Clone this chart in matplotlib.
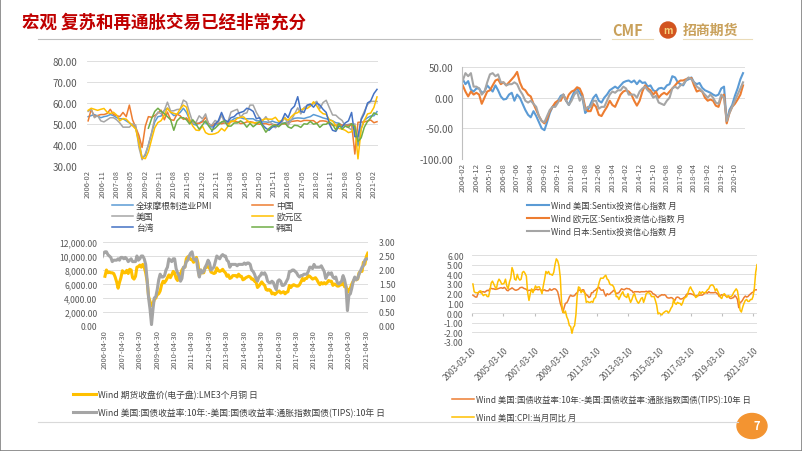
import numpy as np
import pandas as pd
import matplotlib
matplotlib.use('Agg')
import matplotlib.pyplot as plt
from matplotlib.patches import Ellipse, Rectangle
from matplotlib.ticker import StrMethodFormatter

plt.rcParams['font.family'] = ['Noto Sans CJK SC', 'DejaVu Sans']
plt.rcParams['axes.unicode_minus'] = False

W, H = 802, 452

# ---- chart 1: manufacturing PMI, every 2 months from 2006-02 ----
pmi_start = '2006-02-01'
pmi_global = [53.5, 54.0, 54.5, 53.8, 53.0, 53.5,
              53.8, 54.5, 54.0, 53.0, 52.5, 52.5,
              51.5, 50.5, 49.5, 47.8, 42.0, 33.7,
              35.0, 40.0, 45.5, 51.0, 53.5, 53.8,
              56.5, 57.5, 55.5, 54.0, 54.5, 55.5,
              57.5, 55.5, 52.0, 50.0, 49.5, 50.5,
              51.5, 50.5, 49.5, 48.5, 49.5, 50.0,
              50.5, 50.5, 50.5, 51.5, 52.5, 53.0,
              53.0, 52.5, 52.5, 52.5, 52.5, 51.5,
              51.5, 51.0, 51.0, 50.7, 51.4, 50.8,
              50.5, 50.4, 50.5, 51.0, 52.0, 52.7,
              52.9, 52.8, 52.6, 53.1, 53.5, 54.5,
              54.0, 53.5, 52.9, 52.5, 52.1, 51.5,
              50.6, 50.4, 49.4, 49.5, 49.8, 50.1,
              47.1, 39.6, 47.9, 51.8, 53.0, 53.8,
              53.9, 55.9]
pmi_china = [51.5, 57.0, 53.5, 54.0, 54.5, 54.5,
             55.0, 57.0, 54.5, 54.0, 53.5, 55.5,
             53.5, 59.0, 52.0, 48.4, 44.6, 38.8,
             49.0, 53.5, 53.2, 54.0, 55.2, 56.6,
             52.0, 55.7, 52.1, 51.7, 54.7, 53.9,
             52.2, 52.9, 50.9, 50.9, 50.4, 50.3,
             51.0, 53.3, 50.2, 49.2, 50.2, 50.6,
             50.1, 50.6, 50.1, 51.0, 51.4, 51.0,
             50.2, 50.4, 51.0, 51.1, 50.8, 50.1,
             49.9, 50.1, 50.2, 49.7, 49.8, 49.7,
             49.0, 50.1, 50.0, 50.4, 51.2, 51.4,
             51.6, 51.2, 51.7, 51.7, 51.6, 51.6,
             50.3, 51.4, 51.5, 51.3, 50.2, 49.4,
             49.2, 50.1, 49.4, 49.5, 49.3, 50.2,
             35.7, 50.8, 50.9, 51.0, 51.4, 51.9,
             50.6, 51.1]
pmi_us = [56.0, 57.0, 53.0, 54.0, 51.5, 51.0,
          52.0, 53.0, 53.0, 52.0, 50.5, 48.5,
          48.5, 48.5, 50.0, 49.5, 38.9, 33.0,
          35.8, 40.1, 45.8, 52.9, 55.7, 54.9,
          56.5, 60.4, 56.2, 56.3, 56.9, 57.0,
          61.4, 60.4, 55.3, 50.6, 50.8, 53.9,
          52.4, 54.8, 49.7, 49.6, 51.7, 50.7,
          54.2, 50.7, 50.9, 55.7, 56.4, 57.0,
          53.2, 54.9, 55.3, 59.0, 59.0, 55.5,
          52.9, 51.5, 53.5, 51.1, 50.1, 48.2,
          49.5, 50.8, 53.2, 49.4, 51.9, 54.7,
          57.7, 54.8, 57.8, 58.8, 58.7, 59.7,
          60.8, 57.3, 60.2, 61.3, 57.7, 54.3,
          54.2, 52.8, 51.7, 49.1, 48.3, 47.2,
          50.1, 41.5, 52.6, 56.0, 59.3, 60.7,
          60.8, 60.7]
pmi_euro = [56.5, 57.5, 57.0, 56.5, 57.0, 57.4,
            55.6, 55.0, 55.6, 54.3, 51.5, 52.6,
            52.3, 50.7, 49.2, 47.6, 41.1, 33.9,
            33.5, 36.8, 42.6, 48.2, 50.7, 51.6,
            54.2, 57.6, 55.6, 55.1, 54.6, 57.1,
            59.0, 58.0, 52.0, 49.0, 47.1, 46.9,
            49.0, 45.9, 45.1, 45.1, 45.4, 46.1,
            47.9, 46.7, 48.8, 51.4, 51.3, 52.7,
            53.2, 53.4, 51.8, 50.7, 50.6, 50.6,
            51.0, 52.0, 52.5, 52.3, 52.3, 53.2,
            51.2, 51.7, 52.8, 51.7, 53.5, 54.9,
            55.4, 56.7, 57.4, 57.4, 58.5, 60.6,
            58.6, 56.2, 54.9, 54.6, 52.0, 51.4,
            49.3, 47.9, 47.6, 47.0, 45.9, 46.3,
            49.2, 33.4, 47.4, 51.7, 54.8, 55.2,
            57.9, 62.9]
pmi_taiwan = [None] * 36 + [
              None, None, None, 46.5, 50.0, 51.5,
              55.5, 52.0, 51.0, 53.0, 53.5, 55.0,
              55.5, 56.0, 57.5, 57.0, 56.0, 52.5,
              53.0, 49.5, 48.0, 47.0, 48.5, 49.0,
              50.0, 51.5, 55.0, 53.0, 57.0, 58.5,
              63.0, 56.0, 55.5, 59.0, 59.5, 58.0,
              60.0, 59.0, 57.0, 55.5, 50.0, 47.0,
              46.5, 49.0, 48.5, 50.5, 51.5, 55.5,
              44.0, 44.0, 52.0, 55.0, 60.0, 61.0,
              64.5, 66.5]
pmi_korea = [None] * 18 + [
             None, 48.0, 52.5, 56.0, 57.5, 56.0,
             55.0, 53.5, 52.0, 47.0, 51.5, 53.0,
             53.0, 52.0, 50.0, 52.0, 50.0, 47.5,
             49.5, 51.5, 49.0, 47.0, 48.0, 49.5,
             51.0, 51.5, 49.0, 49.0, 50.5, 50.5,
             51.5, 50.5, 48.5, 50.3, 48.7, 49.9,
             51.1, 48.8, 46.1, 47.9, 49.1, 49.5,
             48.7, 50.0, 50.5, 48.6, 48.0, 49.4,
             49.2, 48.4, 50.1, 49.9, 51.2, 49.9,
             50.3, 48.4, 49.8, 49.9, 51.0, 49.8,
             47.2, 50.2, 47.5, 49.0, 48.4, 50.1,
             48.7, 41.6, 43.4, 48.5, 51.2, 52.9,
             55.3, 54.6]
pmi_names = ['全球摩根制造业PMI', '中国', '美国', '欧元区', '台湾', '韩国']

# ---- chart 2: Sentix investor confidence, every 2 months from 2004-02 ----
sentix_start = '2004-02-01'
sentix_us = [30, 22, 27, 13, 10, 15,
             15, 8, 10, 20, 15, 10,
             20, 12, 2, -3, -2, 5,
             8, -5, 5, 0, -10, -20,
             -28, -32, -22, -30, -40, -50,
             -53, -40, -25, -15, -10, -5,
             3, 5, -5, -12, 0, 10,
             15, 8, 0, -25, -20, -10,
             0, 5, -5, -8, 0, 5,
             12, 15, 18, 15, 20, 25,
             27, 28, 25, 28, 22, 28,
             24, 25, 18, 20, 12, 10,
             15, 16, 14, 20, 22, 35,
             33, 25, 22, 20, 28, 30,
             33, 25, 22, 24, 16, 12,
             10, 8, 5, 3, 5, 15,
             18, -40, -20, -12, 3, 15,
             30, 40]
sentix_euro = [20, 10, 2, 10, 5, 8,
               5, -10, 0, 10, 12, 20,
               28, 30, 22, 25, 20, 25,
               30, 35, 42, 25, 15, 12,
               5, 2, -10, -20, -30, -38,
               -42, -35, -22, -15, -8, -5,
               -5, 5, -5, 5, 10, 12,
               17, 15, 5, -15, -22, -22,
               -10, -15, -28, -30, -22, -15,
               -5, -12, -15, -5, 5, 10,
               12, 10, 5, -5, -13, -5,
               10, 20, 15, 12, 5, 10,
               0, 5, 8, 5, 10, 15,
               20, 25, 28, 28, 30, 32,
               32, 20, 10, 12, 10, 0,
               -5, -3, -5, -13, -15, 0,
               5, -42, -25, -15, -10, -3,
               5, 20]
sentix_japan = [28, 40, 35, 40, 18, 18,
                15, 5, 10, 25, 38, 40,
                35, 38, 25, 25, 20, 22,
                22, 25, 22, 12, 5, -5,
                -8, -5, -10, -15, -30, -38,
                -40, -30, -20, -15, -15, -8,
                0, 5, -5, -12, -5, 5,
                10, -5, 2, -20, -15, -15,
                -5, -5, -18, -15, -15, -5,
                5, 10, 8, 12, 12, 18,
                15, 5, 5, 5, 0, 10,
                15, 18, 12, 8, 0, 3,
                -8, -10, -12, -5, 0, 15,
                18, 15, 20, 22, 28, 33,
                30, 25, 18, 15, 10, 5,
                0, 5, 0, -8, -10, 5,
                0, -38, -25, -15, -5, 5,
                15, 25]
sentix_names = ['Wind 美国:Sentix投资信心指数 月', 'Wind 欧元区:Sentix投资信心指数 月',
                'Wind 日本:Sentix投资信心指数 月']

# ---- chart 3: LME copper, monthly from 2006-04 ----
copper_start = '2006-04-30'
copper = [7100, 8000, 7600, 7700, 7600, 7600, 7500, 7000, 6300,
          5400, 6200, 6900, 7900, 7600, 7600, 7950, 7500, 8100, 8000, 6900, 6700,
          7100, 8400, 8500, 8700, 8400, 8800, 8400, 7600, 6400, 4200, 3500, 2900,
          3200, 3800, 4000, 4500, 4600, 5000, 5900, 6400, 6200, 6500, 6900, 7300,
          6900, 7300, 7800, 7600, 6800, 6500, 7400, 7400, 8000, 8300, 8400, 9600,
          9900, 9800, 9500, 9500, 9100, 9300, 9800, 9000, 7100, 8000, 7600, 7600,
          8400, 8400, 8500, 8300, 7700, 7600, 7500, 7600, 8300, 7900, 7800, 7900,
          8100, 7800, 7600, 7100, 7300, 6800, 6900, 7200, 7200, 7200, 7000, 7400,
          7100, 7100, 6600, 6700, 6900, 7000, 7100, 7000, 6700, 6700, 6400, 6300,
          5500, 5700, 6000, 6300, 6000, 5800, 5200, 5100, 5200, 5100, 4600, 4700,
          4500, 4700, 4900, 5000, 4700, 4800, 4900, 4600, 4800, 4900, 5800, 5500,
          5800, 5900, 5800, 5700, 5700, 5900, 6300, 6800, 6500, 6800, 6800, 7200,
          7100, 6900, 6700, 6800, 6900, 6600, 6200, 5900, 6200, 6000, 6200, 6000,
          6200, 6500, 6400, 6400, 5800, 6000, 5900, 5700, 5700, 5900, 5900, 6200,
          5600, 5700, 4800, 5200, 5400, 6000, 6400, 6700, 6600, 6700, 7600, 7800,
          7800, 9100, 8800, 9900, 10400]

# ---- 10y breakeven (charts 3 and 4) and CPI yoy, monthly from 2003-03 ----
monthly_start = '2003-03-31'
breakeven = [1.85, 1.75, 1.65, 1.65, 2.05, 2.25, 2.1, 2.2, 2.2, 2.15,
             2.25, 2.35, 2.3, 2.5, 2.55, 2.5, 2.5, 2.45, 2.45, 2.5, 2.55, 2.6,
             2.6, 2.55, 2.65, 2.55, 2.35, 2.3, 2.45, 2.5, 2.6, 2.5, 2.4, 2.35,
             2.4, 2.45, 2.6, 2.65, 2.65, 2.55, 2.5, 2.45, 2.3, 2.35, 2.35, 2.35,
             2.4, 2.35, 2.45, 2.45, 2.4, 2.45, 2.4, 2.3, 2.35, 2.4, 2.3, 2.3,
             2.3, 2.5, 2.35, 2.4, 2.5, 2.5, 2.4, 2.2, 1.65, 1.0, 0.6, 0.05,
             0.6, 1.0, 1.05, 1.3, 1.65, 1.85, 1.75, 1.75, 1.8, 2.0, 2.1, 2.4,
             2.35, 2.3, 2.4, 2.4, 2.05, 1.9, 1.8, 1.6, 1.7, 2.1, 2.1, 2.3,
             2.35, 2.5, 2.6, 2.65, 2.4, 2.35, 2.4, 2.0, 1.75, 2.0, 1.9, 1.95,
             2.1, 2.2, 2.35, 2.25, 2.0, 2.05, 2.1, 2.3, 2.5, 2.45, 2.4, 2.5,
             2.55, 2.5, 2.5, 2.35, 2.3, 2.1, 2.2, 2.2, 2.2, 2.2, 2.15, 2.2,
             2.2, 2.2, 2.2, 2.25, 2.2, 2.25, 2.25, 2.2, 2.0, 1.95, 1.85, 1.7,
             1.6, 1.75, 1.8, 1.9, 1.85, 1.9, 1.8, 1.6, 1.55, 1.55, 1.6, 1.55,
             1.4, 1.3, 1.6, 1.65, 1.6, 1.45, 1.45, 1.5, 1.6, 1.7, 1.95, 1.95,
             2.0, 2.0, 1.95, 1.9, 1.8, 1.75, 1.8, 1.8, 1.85, 1.85, 1.85, 1.95,
             2.1, 2.1, 2.05, 2.2, 2.1, 2.1, 2.1, 2.1, 2.15, 2.05, 1.95, 1.7,
             1.8, 1.9, 1.85, 1.9, 1.75, 1.7, 1.75, 1.55, 1.5, 1.55, 1.6, 1.8,
             1.65, 1.4, 0.55, 1.1, 1.15, 1.35, 1.6, 1.75, 1.65, 1.7, 1.85, 1.98,
             2.1, 2.15, 2.35, 2.4, 2.4]
cpi_yoy = [3.0, 2.2, 2.1, 2.1, 2.1, 2.2, 2.3, 2.0, 1.8, 1.9,
           1.9, 1.7, 1.7, 2.3, 3.1, 3.3, 3.0, 2.7, 2.5, 3.2, 3.5, 3.3,
           3.0, 3.0, 3.1, 3.5, 2.8, 2.5, 3.2, 3.6, 4.7, 4.3, 3.5, 3.4,
           4.0, 3.6, 3.4, 3.5, 4.2, 4.3, 4.1, 3.8, 2.1, 1.3, 2.0, 2.5,
           2.1, 2.4, 2.8, 2.6, 2.7, 2.7, 2.4, 2.0, 2.8, 3.5, 4.3, 4.1,
           4.3, 4.0, 4.0, 3.9, 4.2, 5.0, 5.6, 5.4, 4.9, 3.7, 1.1, 0.1,
           0.0, 0.2, -0.4, -0.7, -1.3, -1.4, -2.1, -1.5, -1.3, -0.2, 1.8, 2.7,
           2.6, 2.1, 2.3, 2.2, 2.0, 1.1, 1.2, 1.1, 1.1, 1.2, 1.1, 1.5,
           1.6, 2.1, 2.7, 3.2, 3.6, 3.6, 3.6, 3.8, 3.9, 3.5, 3.4, 3.0,
           2.9, 2.9, 2.7, 2.3, 1.7, 1.7, 1.4, 1.7, 2.0, 2.2, 1.8, 1.7,
           1.6, 2.0, 1.5, 1.1, 1.4, 1.8, 2.0, 1.5, 1.2, 1.0, 1.2, 1.5,
           1.6, 1.1, 1.5, 2.0, 2.1, 2.1, 2.0, 1.7, 1.7, 1.7, 1.3, 0.8,
           -0.1, 0.0, -0.1, -0.2, 0.0, 0.1, 0.2, 0.2, 0.0, 0.2, 0.5, 0.7,
           1.4, 1.0, 0.9, 1.1, 1.0, 1.0, 0.8, 1.1, 1.5, 1.6, 1.7, 2.1,
           2.5, 2.7, 2.4, 2.2, 1.9, 1.6, 1.7, 1.9, 2.2, 2.0, 2.2, 2.1,
           2.1, 2.2, 2.4, 2.5, 2.8, 2.9, 2.9, 2.7, 2.3, 2.5, 2.2, 1.9,
           1.6, 1.5, 1.9, 2.0, 1.8, 1.6, 1.8, 1.7, 1.7, 1.8, 2.1, 2.3,
           2.5, 2.3, 1.5, 0.3, 0.1, 0.6, 1.0, 1.3, 1.4, 1.2, 1.2, 1.4,
           1.4, 1.7, 2.6, 4.2, 5.0]
copper_name = 'Wind 期货收盘价(电子盘):LME3个月铜 日'
be_name = 'Wind 美国:国债收益率:10年:-美国:国债收益率:通胀指数国债(TIPS):10年 日'
cpi_name = 'Wind 美国:CPI:当月同比 月'
title = '宏观 复苏和再通胀交易已经非常充分'

BLUE, ORANGE, GRAY, GOLD, DBLUE, GREEN = '#5B9BD5', '#ED7D31', '#A5A5A5', '#FFC000', '#4472C4', '#70AD47'
TXT = '#595959'

fig = plt.figure(figsize=(W / 100, H / 100), dpi=100)


def add_ax(l, t, r, b):
    return fig.add_axes([l / W, 1 - b / H, (r - l) / W, (b - t) / H])


def base_style(ax, fs, ypad=2):
    for s in ax.spines.values():
        s.set_visible(False)
    ax.grid(axis='y', color='#D9D9D9', lw=0.6)
    ax.set_axisbelow(True)
    ax.tick_params(length=0, labelsize=fs, colors=TXT, pad=2)
    ax.tick_params(axis='y', pad=ypad)


def put_legend(ax, handles, labels, x, y, fs, **kw):
    leg = ax.legend(handles, labels, loc='upper left', bbox_to_anchor=(x / W, 1 - y / H),
                    bbox_transform=fig.transFigure, frameon=False, fontsize=fs,
                    borderpad=0, borderaxespad=0, handletextpad=0.3, **kw)
    for t in leg.get_texts():
        t.set_color('#404040')
    return leg


# chart 1
pmi_dates = pd.date_range(pmi_start, periods=len(pmi_global), freq='2MS')
ax1 = add_ax(87, 62, 378, 167)
base_style(ax1, 7, ypad=7)
lines1 = []
for vals, c in zip([pmi_global, pmi_china, pmi_us, pmi_euro, pmi_taiwan, pmi_korea],
                   [BLUE, ORANGE, GRAY, GOLD, DBLUE, GREEN]):
    lines1 += ax1.plot(pmi_dates, np.array(vals, dtype=float), color=c, lw=1.1)
ax1.set_ylim(30, 80)
ax1.set_yticks(range(30, 81, 10))
ax1.yaxis.set_major_formatter(StrMethodFormatter('{x:.2f}'))
ax1.set_xlim(pd.Timestamp('2006-01-10'), pd.Timestamp('2021-04-20'))
t1 = pd.date_range(pmi_start, '2021-04-01', freq='9MS')
ax1.set_xticks(t1)
ax1.set_xticklabels([d.strftime('%Y-%m') for d in t1], rotation=90, fontsize=5.4)
order = [0, 2, 4, 1, 3, 5]
put_legend(ax1, [lines1[i] for i in order], [pmi_names[i] for i in order], 112, 202, 6.3,
           ncol=2, handlelength=2.4, columnspacing=4.6, labelspacing=0.25)

# chart 2
sx_dates = pd.date_range(sentix_start, periods=len(sentix_us), freq='2MS')
ax2 = add_ax(462, 68, 745, 160)
base_style(ax2, 7, ypad=6)
ax2.spines['left'].set_visible(True)
ax2.spines['left'].set_color('#BFBFBF')
lines2 = []
for vals, c in zip([sentix_us, sentix_euro, sentix_japan], [BLUE, ORANGE, GRAY]):
    lines2 += ax2.plot(sx_dates, vals, color=c, lw=1.5)
ax2.set_ylim(-100, 50)
ax2.set_yticks([-100, -50, 0, 50])
ax2.yaxis.set_major_formatter(StrMethodFormatter('{x:.2f}'))
ax2.set_xlim(pd.Timestamp('2004-01-15'), pd.Timestamp('2021-05-15'))
t2 = pd.date_range(sentix_start, '2021-04-01', freq='10MS')
ax2.set_xticks(t2)
ax2.set_xticklabels([d.strftime('%Y-%m') for d in t2], rotation=90, fontsize=5.6)
put_legend(ax2, lines2, sentix_names, 527, 202, 6, handlelength=2.6, labelspacing=0.45)

# chart 3
cu_dates = pd.date_range(copper_start, periods=len(copper), freq='ME')
m_dates = pd.date_range(monthly_start, periods=len(breakeven), freq='ME')
ax3 = add_ax(103, 243, 368, 327)
base_style(ax3, 6.2, ypad=4)
l_cu, = ax3.plot(cu_dates, copper, color=GOLD, lw=2.2)
ax3.set_ylim(0, 12000)
ax3.set_yticks(range(0, 12001, 2000))
ax3.yaxis.set_major_formatter(StrMethodFormatter('{x:,.2f}'))
ax3b = ax3.twinx()
for s in ax3b.spines.values():
    s.set_visible(False)
l_be, = ax3b.plot(m_dates, breakeven, color=GRAY, lw=2.2)
ax3b.set_ylim(0, 3)
ax3b.set_yticks(np.arange(0, 3.01, 0.5))
ax3b.yaxis.set_major_formatter(StrMethodFormatter('{x:.2f}'))
ax3b.tick_params(length=0, labelsize=6.2, colors=TXT, pad=8)
ax3.set_xlim(pd.Timestamp('2006-03-20'), pd.Timestamp('2021-06-05'))
t3 = [pd.Timestamp(f'{y}-04-30') for y in range(2006, 2022)]
ax3.set_xticks(t3)
ax3.set_xticklabels([d.strftime('%Y-%m-%d') for d in t3], rotation=90, fontsize=5.4)
put_legend(ax3b, [l_cu, l_be], [copper_name, be_name], 73, 391, 6.3,
           handlelength=2.6, labelspacing=0.95)

# chart 4
ax4 = add_ax(472, 256, 757, 343)
base_style(ax4, 6.2, ypad=6)
l_be4, = ax4.plot(m_dates, breakeven, color=ORANGE, lw=1.1)
l_cpi, = ax4.plot(m_dates, cpi_yoy, color=GOLD, lw=1.1)
ax4.set_ylim(-3, 6)
ax4.set_yticks(range(-3, 7))
ax4.yaxis.set_major_formatter(StrMethodFormatter('{x:.2f}'))
ax4.set_xlim(pd.Timestamp('2003-03-10'), pd.Timestamp('2021-05-31'))
t4 = [pd.Timestamp(f'{y}-03-10') for y in range(2003, 2022, 2)]
ax4.set_xticks(t4)
ax4.set_xticklabels([d.strftime('%Y-%m-%d') for d in t4], rotation=45, ha='right',
                    rotation_mode='anchor', fontsize=6)
sec = ax4.secondary_xaxis(1 / 3)
sec.set_xticks(t4)
sec.set_xticklabels([])
sec.tick_params(direction='out', length=2, color='#BFBFBF')
sec.spines['bottom'].set_visible(False)
put_legend(ax4, [l_be4, l_cpi], [be_name, cpi_name], 452, 396, 6,
           handlelength=2.6, labelspacing=1.1)

# slide decoration
fig.text(22 / W, 1 - 23 / H, title, color='#C00000', fontsize=12.6, fontweight='bold', va='center')
fig.add_artist(plt.Line2D([38 / W, 600 / W], [1 - 40 / H] * 2, color='#BFBFBF', lw=0.8))
fig.text(612 / W, 1 - 31 / H, 'CMF', color='#C9A15B', fontsize=10.5, fontweight='bold', va='center')
fig.add_artist(Ellipse((668 / W, 1 - 31 / H), 16 / W, 16 / H, color='#D2541F', transform=fig.transFigure))
fig.text(668 / W, 1 - 31 / H, 'm', color='#F6D27A', fontsize=7, fontweight='bold', style='italic',
         ha='center', va='center')
fig.text(683 / W, 1 - 31 / H, '招商期货', color='#C9A15B', fontsize=10, fontweight='bold', va='center')
for x0, x1 in [(612, 653), (683, 752)]:
    fig.add_artist(plt.Line2D([x0 / W, x1 / W], [1 - 40 / H] * 2, color='#EADBB8', lw=0.8))
fig.add_artist(plt.Line2D([38 / W, 738 / W], [1 - 423 / H] * 2, color='#D9D9D9', lw=0.8))
fig.add_artist(Ellipse((752 / W, 1 - 427 / H), 30 / W, 25 / H, color='#F39431', transform=fig.transFigure))
fig.text(757 / W, 1 - 427 / H, '7', color='white', fontsize=8, fontweight='bold', ha='center', va='center')
fig.add_artist(Rectangle((0, 0), 1, 1, transform=fig.transFigure, fill=False, edgecolor='#808080', lw=1.2))

fig.savefig('out.png', dpi=100)
